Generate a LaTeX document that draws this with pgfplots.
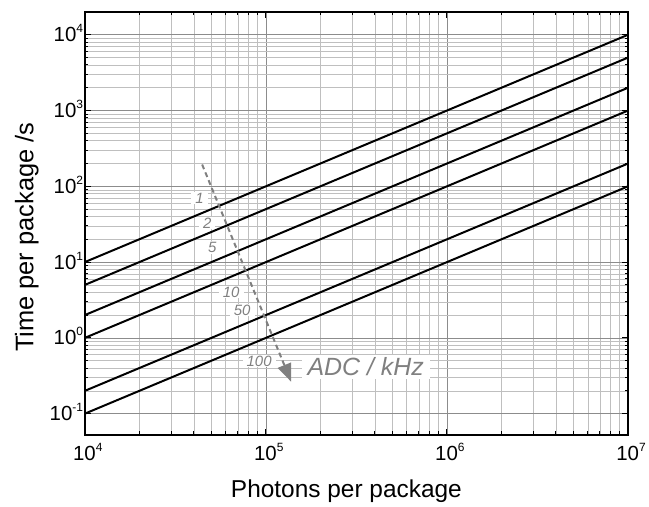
\documentclass[border=0pt]{standalone}
\usepackage{fontspec}
\setmainfont{Liberation Sans}
\usepackage{pgfplots}
\pgfplotsset{compat=1.18}
\usetikzlibrary{arrows.meta,calc}

% power-of-ten tick label with a small raised exponent
\newcommand{\tp}[1]{10\smash{\raisebox{9pt}{\fontsize{12}{13}\selectfont #1}}}

\begin{document}
\begin{tikzpicture}
\begin{axis}[
  scale only axis, width=545pt, height=424pt,
  xmode=log, ymode=log,
  xmin=1e4, xmax=1e7, ymin=0.053, ymax=2e4,
  grid=both,
  major grid style={draw=black!45, line width=0.6pt},
  minor grid style={draw=black!25, line width=0.5pt},
  tick align=inside,
  major tick length=6pt, minor tick length=3.5pt,
  every tick/.style={black, line width=1pt},
  axis line style={line width=2pt},
  xtick={1e4,1e5,1e6,1e7},
  xticklabels={\tp{4},\tp{5},\tp{6},\tp{7}},
  ytick={1e-1,1,1e1,1e2,1e3,1e4},
  yticklabels={\tp{-1},\tp{0},\tp{1},\tp{2},\tp{3},\tp{4}},
  tick label style={font=\fontsize{20.5}{24}\selectfont},
  yticklabel style={inner xsep=1.5pt},
  xticklabel style={inner ysep=0pt, yshift=-11pt, xshift=3pt},
  xlabel={Photons per package},
  ylabel={Time per package /s},
  every axis x label/.style={at={(rel axis cs:0.5,0)}, yshift=-57pt, xshift=-10pt, anchor=center,
    font=\fontsize{24.5}{28}\selectfont},
  every axis y label/.style={at={(rel axis cs:0,0.5)}, xshift=-58pt, yshift=-14pt, rotate=90, anchor=center,
    font=\fontsize{25.5}{29}\selectfont},
]
% time per package = photons / ADC rate, rates 1, 2, 5, 10, 50, 100 kHz
\addplot[black, line width=2pt] coordinates {(1e4,10) (1e7,1e4)};
\addplot[black, line width=2pt] coordinates {(1e4,5) (1e7,5e3)};
\addplot[black, line width=2pt] coordinates {(1e4,2) (1e7,2e3)};
\addplot[black, line width=2pt] coordinates {(1e4,1) (1e7,1e3)};
\addplot[black, line width=2pt] coordinates {(1e4,0.2) (1e7,200)};
\addplot[black, line width=2pt] coordinates {(1e4,0.1) (1e7,100)};

% rate labels
\begin{scope}[every node/.style={fill=white, inner xsep=4pt, inner ysep=1pt, text=black!50,
    font=\itshape\fontsize{15}{17}\selectfont}]
  \node at (axis cs:4.3e4,69.5) {1};
  \node at (axis cs:4.75e4,32.6) {2};
  \node at (axis cs:5.06e4,15.7) {5};
  \node at (axis cs:6.44e4,4.03) {10};
  \node at (axis cs:7.41e4,2.33) {50};
  \node at (axis cs:9.18e4,0.498) {100};
  \node[font=\itshape\fontsize{25}{29}\selectfont, inner xsep=6pt, inner ysep=3pt] at (axis cs:3.56e5,0.415) {ADC / kHz};
\end{scope}

% direction of increasing ADC rate
\addplot[black!50, line width=2pt, dash pattern=on 5pt off 3.5pt,
  -{Triangle[length=18pt, width=14pt]}] coordinates {(4.45e4,194) (1.38e5,0.264)};
\end{axis}
\path ($(current axis.south west)+(-85pt,-70pt)$) rectangle ($(current axis.north east)+(19pt,12pt)$);
\end{tikzpicture}
\end{document}
